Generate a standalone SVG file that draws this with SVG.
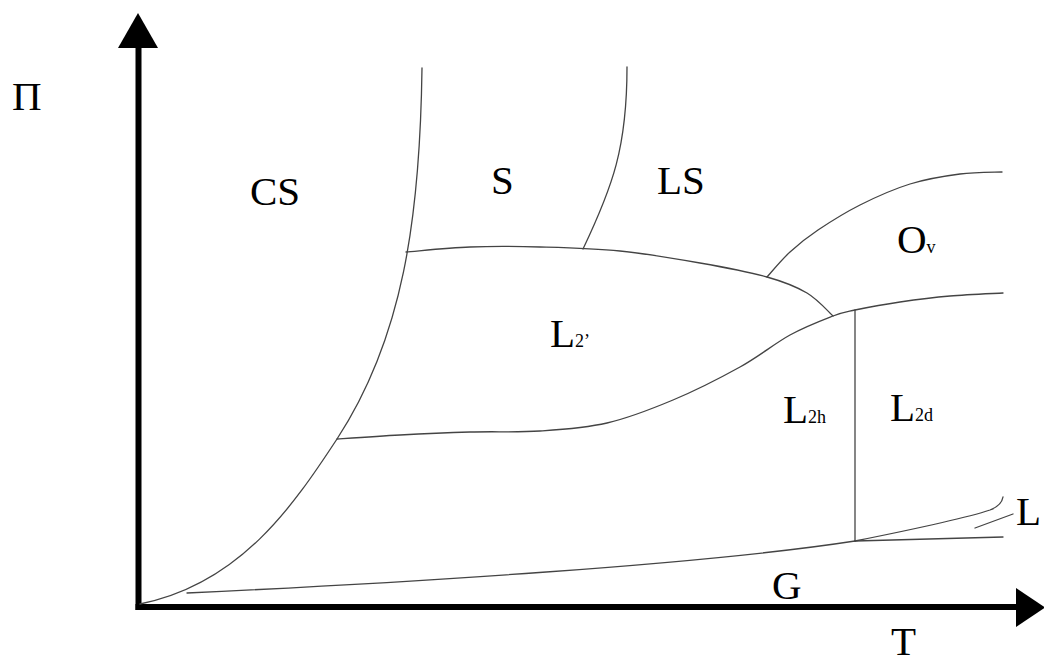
<svg xmlns="http://www.w3.org/2000/svg" width="1044" height="664" viewBox="0 0 1044 664">
<style>
.ax{stroke:#000;stroke-width:6;fill:none}
.cv{stroke:#444;stroke-width:1.3;fill:none;stroke-linecap:round}
.lb{font-family:"Liberation Serif","Times New Roman",serif;font-size:41px;fill:#000}
.sb{font-size:18px}
</style>
<rect width="1044" height="664" fill="#fff"/>
<g id="axes">
<line class="ax" x1="138.5" y1="46" x2="138.5" y2="610"/>
<line class="ax" x1="135.5" y1="607" x2="1018" y2="607"/>
<polygon points="138,13 118,48 158,48" fill="#000"/>
<polygon points="1045,607.5 1016,588 1016,627" fill="#000"/>
</g>
<g id="connectors">
<path id="cs-s" class="cv" d="M140,604 C240,584 293,506 337,439 C403,338 420,218 422,68"/>
<path id="s-ls" class="cv" d="M583,249 C613,186 627,147 627,67"/>
<path id="l2-upper" class="cv" d="M406,252 C416.7,251.2 447.7,247.8 470,247 C492.3,246.2 515,246.3 540,247 C565,247.7 593.3,248.3 620,251 C646.7,253.7 675.5,258.7 700,263 C724.5,267.3 749.2,272 767,277 C784.8,282 796,286.5 807,293 C818,299.5 828.7,312.2 833,316"/>
<path id="ov" class="cv" d="M767,277 C770.8,272.8 781.5,259.8 790,252 C798.5,244.2 806.3,237.8 818,230 C829.7,222.2 844.7,212.7 860,205 C875.3,197.3 893.3,189.2 910,184 C926.7,178.8 944.7,176 960,174 C975.3,172 995,172.3 1002,172"/>
<path id="l2-lower" class="cv" d="M337,439 C347.5,438.3 377.8,436.2 400,435 C422.2,433.8 446.7,432.7 470,432 C493.3,431.3 517.2,432.5 540,431 C562.8,429.5 584.8,428.2 607,423 C629.2,417.8 650.8,409.3 673,400 C695.2,390.7 720.5,377.8 740,367 C759.5,356.2 774.5,343.5 790,335 C805.5,326.5 822.2,320.2 833,316 C843.8,311.8 843.8,312.3 855,310 C866.2,307.7 884.2,304.3 900,302 C915.8,299.7 932.8,297.5 950,296 C967.2,294.5 994.2,293.5 1003,293"/>
<path id="l2h-l2d" class="cv" d="M855,310 V541"/>
<path id="g" class="cv" d="M187,593 C400,583 700,565 855,541"/>
<path id="g-upper" class="cv" d="M855,541 C900,532 960,520 990,510 C998,507 1002,503 1003,497"/>
<path id="g-lower" class="cv" d="M855,541 L1003,537"/>
<path id="l-tick" class="cv" d="M975,528 L1013,514"/>
</g>
<g id="label-pi"><text class="lb" x="12" y="110">Π</text></g>
<g id="label-t"><text class="lb" x="891" y="655">T</text></g>
<g id="node-cs"><text class="lb" x="250" y="205">CS</text></g>
<g id="node-s"><text class="lb" x="491" y="194">S</text></g>
<g id="node-ls"><text class="lb" x="657" y="194">LS</text></g>
<g id="node-ov"><text class="lb" x="897" y="253">O<tspan class="sb">v</tspan></text></g>
<g id="node-l2p"><text class="lb" x="550" y="347">L<tspan class="sb">2’</tspan></text></g>
<g id="node-l2h"><text class="lb" x="783" y="423">L<tspan class="sb">2h</tspan></text></g>
<g id="node-l2d"><text class="lb" x="890" y="421">L<tspan class="sb">2d</tspan></text></g>
<g id="node-g"><text class="lb" x="772" y="599">G</text></g>
<g id="node-l"><text class="lb" x="1016" y="525">L</text></g>
</svg>
